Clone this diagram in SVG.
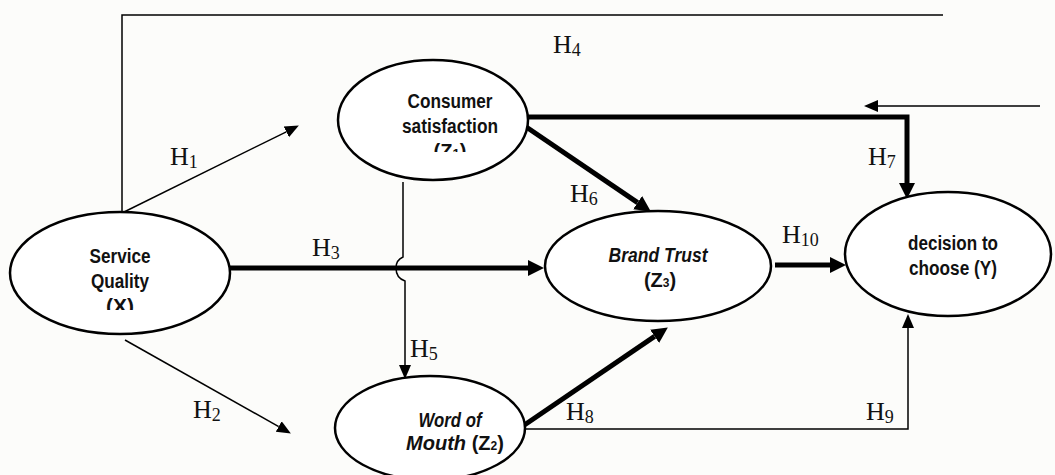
<svg xmlns="http://www.w3.org/2000/svg" width="1055" height="475" viewBox="0 0 1055 475">
<style>
.node{fill:#fff;stroke:#000;stroke-width:2.5}
.lbl{font-family:"Liberation Sans",Arial,sans-serif;font-weight:bold;font-size:20px;fill:#111;text-anchor:middle}
.it{font-style:italic}
.h{font-family:"Liberation Serif","Times New Roman",serif;font-size:26px;fill:#111}
.sub{font-size:18px}
.thin{fill:none;stroke:#000;stroke-width:1.5}
.thick{fill:none;stroke:#000;stroke-width:5}
</style>
<defs>
<marker id="at" viewBox="0 -7 16 14" refX="0" refY="0" markerWidth="16" markerHeight="14" markerUnits="userSpaceOnUse" orient="auto"><path d="M0,-6 L14,0 L0,6 z" fill="#000"/></marker>
<marker id="ak" viewBox="0 -9 18 18" refX="0" refY="0" markerWidth="18" markerHeight="18" markerUnits="userSpaceOnUse" orient="auto"><path d="M0,-8 L16,0 L0,8 z" fill="#000"/></marker>
<clipPath id="cx"><rect x="0" y="0" width="300" height="310"/></clipPath>
<clipPath id="cz1"><rect x="300" y="0" width="300" height="152"/></clipPath>
</defs>
<rect width="1055" height="475" fill="#fcfcfa"/>
<g id="connectors">
<polyline class="thin" points="122,213 122,15 943,15"/>
<path class="thin" d="M1040,106 H878" marker-end="url(#at)"/>
<path class="thin" d="M122,213 L286.3,131.8" marker-end="url(#at)"/>
<path class="thin" d="M125,340 L278.7,426.6" marker-end="url(#at)"/>
<path class="thick" d="M230,268 H528" marker-end="url(#ak)"/>
<path class="thin" d="M403,182 V257 Q396,260 396,268 Q396,278 405,281 V365" marker-end="url(#at)"/>
<path class="thick" d="M513,118 L637.6,202.6" marker-end="url(#ak)"/>
<path class="thick" d="M513,117 H907 V183" marker-end="url(#ak)"/>
<path class="thick" d="M775,265 H830" marker-end="url(#ak)"/>
<path class="thick" d="M520,428 L654.6,336.4" marker-end="url(#ak)"/>
<path class="thin" d="M518,429 H908 V328" marker-end="url(#at)"/>
</g>
<g id="labels">
<text class="h" x="170" y="165">H<tspan class="sub" dy="3">1</tspan></text>
<text class="h" x="193" y="418">H<tspan class="sub" dy="3">2</tspan></text>
<text class="h" x="312" y="256">H<tspan class="sub" dy="3">3</tspan></text>
<text class="h" x="553" y="53">H<tspan class="sub" dy="3">4</tspan></text>
<text class="h" x="410" y="357">H<tspan class="sub" dy="3">5</tspan></text>
<text class="h" x="570" y="202">H<tspan class="sub" dy="3">6</tspan></text>
<text class="h" x="868" y="165">H<tspan class="sub" dy="3">7</tspan></text>
<text class="h" x="566" y="420">H<tspan class="sub" dy="3">8</tspan></text>
<text class="h" x="866" y="420">H<tspan class="sub" dy="3">9</tspan></text>
<text class="h" x="782" y="243">H<tspan class="sub" dy="3">10</tspan></text>
</g>
<g id="service-quality">
<ellipse class="node" cx="120" cy="273" rx="110" ry="61"/>
<g clip-path="url(#cx)">
<text class="lbl" x="120" y="263" textLength="61" lengthAdjust="spacingAndGlyphs">Service</text>
<text class="lbl" x="120" y="288" textLength="58" lengthAdjust="spacingAndGlyphs">Quality</text>
<text class="lbl" x="120" y="313" textLength="28" lengthAdjust="spacingAndGlyphs">(X)</text>
</g>
</g>
<g id="consumer-satisfaction">
<ellipse class="node" cx="433" cy="120" rx="95" ry="60"/>
<g clip-path="url(#cz1)">
<text class="lbl" x="450" y="108" textLength="85" lengthAdjust="spacingAndGlyphs">Consumer</text>
<text class="lbl" x="450" y="133" textLength="96" lengthAdjust="spacingAndGlyphs">satisfaction</text>
<text class="lbl" x="450" y="158">(Z<tspan font-size="13">1</tspan>)</text>
</g>
</g>
<g id="brand-trust">
<ellipse class="node" cx="658" cy="266" rx="113" ry="55"/>
<text class="lbl it" x="658" y="262" textLength="99" lengthAdjust="spacingAndGlyphs">Brand Trust</text>
<text class="lbl" x="660" y="287" font-size="18">(Z<tspan font-size="12">3</tspan>)</text>
</g>
<g id="word-of-mouth">
<ellipse class="node" cx="430" cy="428" rx="95" ry="52"/>
<text class="lbl it" x="450" y="427" textLength="63" lengthAdjust="spacingAndGlyphs">Word of</text>
<text class="lbl" x="455" y="450" font-size="18"><tspan class="it">Mouth </tspan>(Z<tspan font-size="12">2</tspan>)</text>
</g>
<g id="decision">
<ellipse class="node" cx="948" cy="254" rx="103" ry="62"/>
<text class="lbl" x="953" y="250" textLength="90" lengthAdjust="spacingAndGlyphs">decision to</text>
<text class="lbl" x="953" y="275" textLength="88" lengthAdjust="spacingAndGlyphs">choose (Y)</text>
</g>
</svg>
